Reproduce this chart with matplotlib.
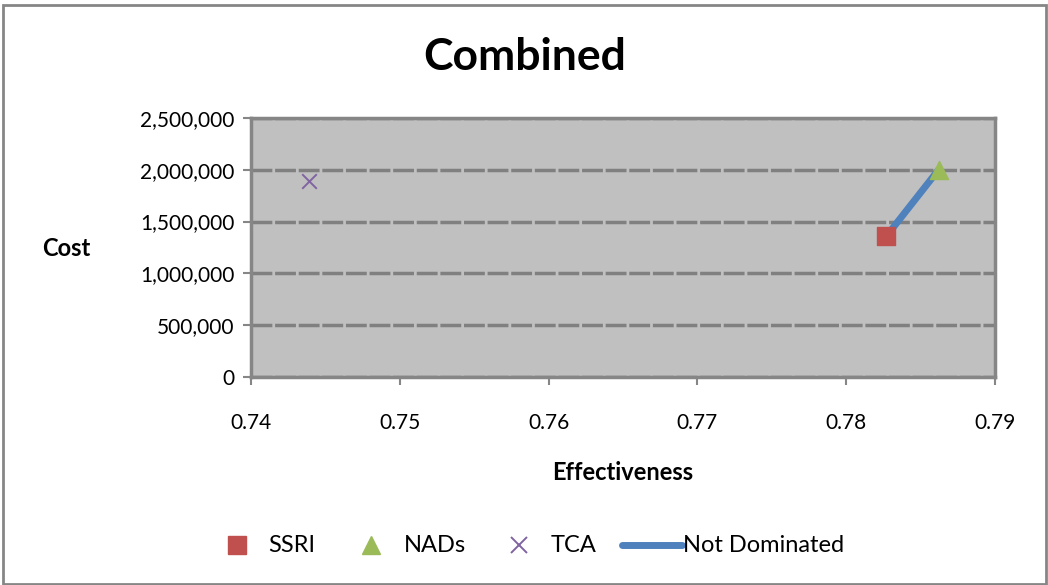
import matplotlib
matplotlib.use("Agg")
import matplotlib.pyplot as plt
from matplotlib.patches import Rectangle
from matplotlib.lines import Line2D
from matplotlib.ticker import FuncFormatter, MultipleLocator

plt.rcParams['font.family'] = ['Lato', 'DejaVu Sans']

# Cost-effectiveness of treatment strategies
strategies = ["SSRI", "NADs", "TCA"]
effectiveness = [0.7827, 0.7862, 0.7439]
cost = [1360000, 2000000, 1890000]
colors = ["#C0504D", "#9BBB59", "#8064A2"]
markers = ["s", "^", "x"]

# Efficient frontier (non-dominated strategies)
frontier_label = "Not Dominated"
frontier_eff = [0.7827, 0.7862]
frontier_cost = [1360000, 2000000]
frontier_color = "#4F81BD"

W, H = 1048, 585
fig = plt.figure(figsize=(W / 100, H / 100), dpi=100)
fig.patches.append(Rectangle((0.003, 0.002), 0.995, 0.99, transform=fig.transFigure,
                             fill=False, edgecolor="#868686", linewidth=2))

ax = fig.add_axes([0.2395, 0.3556, 0.7100, 0.4427])
ax.set_facecolor("#C0C0C0")

ax.plot(frontier_eff, frontier_cost, color=frontier_color, linewidth=5,
        solid_capstyle="butt", zorder=3)
for name, x, y, c, m in zip(strategies, effectiveness, cost, colors, markers):
    if m == "x":
        ax.scatter([x], [y], marker=m, s=110, color=c, linewidths=1.4, zorder=4)
    else:
        ax.scatter([x], [y], marker=m, s=170, color=c, zorder=4)

ax.set_xlim(0.74, 0.79)
ax.set_ylim(0, 2500000)
ax.xaxis.set_major_locator(MultipleLocator(0.01))
ax.yaxis.set_major_locator(MultipleLocator(500000))
ax.xaxis.set_major_formatter(FuncFormatter(lambda v, p: f"{v:g}"))
ax.yaxis.set_major_formatter(FuncFormatter(lambda v, p: f"{int(round(v)):,}"))

ax.grid(axis="y", color="#808080", linestyle=(0, (6, 0.8)), linewidth=2.5, zorder=1)
ax.set_axisbelow(True)
for s in ax.spines.values():
    s.set_color("#868686")
    s.set_linewidth(2.5)

ax.tick_params(axis="both", labelsize=15, color="#868686", width=1.5, length=6,
               direction="out")
ax.tick_params(axis="x", pad=20)
ax.tick_params(axis="y", pad=6)

fig.text(623 / W, 1 - 472 / H, "Effectiveness", ha="center", va="center",
         fontsize=17, fontweight="bold")
fig.text(66 / W, 1 - 248 / H, "Cost", ha="center", va="center",
         fontsize=17, fontweight="bold")
fig.text(0.501, 1 - 57 / H, "Combined", ha="center", va="center",
         fontsize=32, fontweight="bold")

# Legend row drawn in figure coordinates
leg_y = 1 - 545 / H
marker_x = [237, 371, 519]
text_x = [268, 404, 551]
for name, c, m, mx, tx in zip(strategies, colors, markers, marker_x, text_x):
    kw = dict(marker=m, color=c, linestyle="none", transform=fig.transFigure)
    if m == "x":
        kw.update(markersize=11, markeredgewidth=1.4)
    else:
        kw.update(markersize=13)
    fig.add_artist(Line2D([mx / W], [leg_y], **kw))
    fig.text(tx / W, leg_y, name, ha="left", va="center", fontsize=17)
fig.add_artist(Line2D([622 / W, 682 / W], [leg_y, leg_y], color=frontier_color,
                      linewidth=5, solid_capstyle="round", transform=fig.transFigure))
fig.text(683 / W, leg_y, frontier_label, ha="left", va="center", fontsize=17)

fig.savefig("out.png", dpi=100)
